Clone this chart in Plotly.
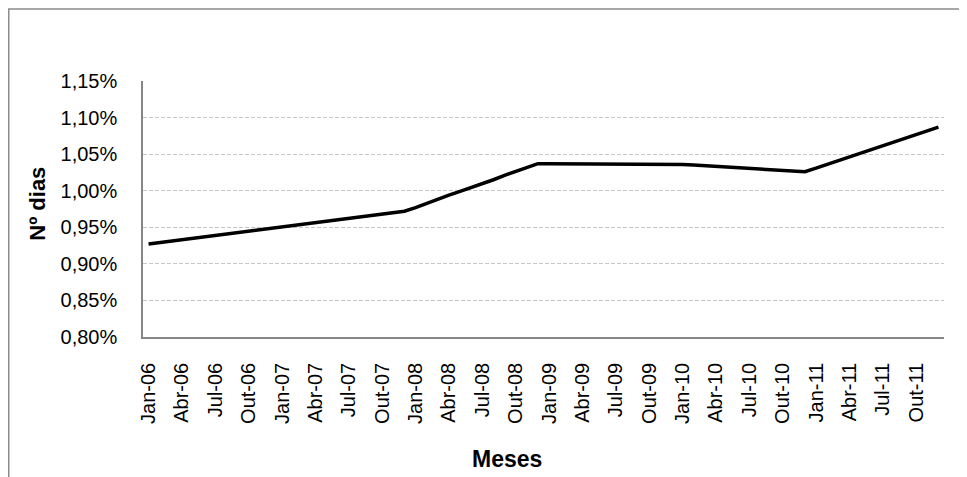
"""
Taxa mensal (Nº dias) - linha de Jan-06 a Dez-11, no estilo de um gráfico do Excel.
"""

import plotly.graph_objects as go

# ==================== DADOS ====================
MESES_PT = ['Jan', 'Fev', 'Mar', 'Abr', 'Mai', 'Jun',
            'Jul', 'Ago', 'Set', 'Out', 'Nov', 'Dez']
ANOS = ['06', '07', '08', '09', '10', '11']

meses = [f"{m}-{a}" for a in ANOS for m in MESES_PT]

# valores (fração, 0.00927 = 0,927%)
taxa_2006 = [0.00927, 0.00929, 0.00931, 0.00933, 0.00935, 0.00937,
             0.00939, 0.00941, 0.00943, 0.00945, 0.00947, 0.00949]
taxa_2007 = [0.00951, 0.00953, 0.00955, 0.00957, 0.00959, 0.00961,
             0.00963, 0.00964, 0.00966, 0.00968, 0.00970, 0.00972]
taxa_2008 = [0.00977, 0.00983, 0.00988, 0.00994, 0.00999, 0.01004,
             0.01010, 0.01015, 0.01021, 0.01026, 0.01031, 0.01037]
taxa_2009 = [0.01037, 0.01037, 0.01037, 0.01037, 0.01037, 0.01037,
             0.01037, 0.01037, 0.01037, 0.01037, 0.01037, 0.01037]
taxa_2010 = [0.01036, 0.01035, 0.01034, 0.01034, 0.01033, 0.01032,
             0.01031, 0.01030, 0.01029, 0.01028, 0.01027, 0.01026]
taxa_2011 = [0.01031, 0.01036, 0.01041, 0.01046, 0.01051, 0.01056,
             0.01061, 0.01066, 0.01071, 0.01076, 0.01082, 0.01087]

taxa = taxa_2006 + taxa_2007 + taxa_2008 + taxa_2009 + taxa_2010 + taxa_2011

# rótulos do eixo x: um a cada trimestre
rotulos_x = meses[::3]

# ==================== ESTILO ====================
FONTE = 'Liberation Sans, Arial, sans-serif'
CINZA_EIXO = '#868686'
CINZA_GRADE = '#c6c6c6'

fig = go.Figure()

fig.add_trace(go.Scatter(
    x=meses,
    y=taxa,
    mode='lines',
    line=dict(color='black', width=3.5),
    showlegend=False,
))

# a página tem 8px de margem no body, por isso a figura é 8px menor
fig.update_layout(
    width=959,
    height=469,
    separators=',.',
    paper_bgcolor='white',
    plot_bgcolor='white',
    font=dict(family=FONTE, color='black', size=20),
    margin=dict(l=135, r=23, t=73, b=140),
    xaxis=dict(
        type='category',
        categoryorder='array',
        categoryarray=meses,
        range=[-0.5, len(meses) - 0.5],
        tickvals=rotulos_x,
        ticktext=rotulos_x,
        tickangle=-90,
        ticks='',
        ticklabelstandoff=16,
        showgrid=False,
        showline=True,
        linecolor=CINZA_EIXO,
        linewidth=1.5,
        zeroline=False,
        tickfont=dict(size=20),
        automargin=False,
    ),
    yaxis=dict(
        range=[0.008, 0.0115],
        dtick=0.0005,
        tick0=0.008,
        tickformat='.2%',
        ticks='',
        ticklabelstandoff=20,
        showgrid=True,
        gridcolor=CINZA_GRADE,
        gridwidth=1,
        griddash='4px,2px',
        showline=True,
        linecolor=CINZA_EIXO,
        linewidth=1.5,
        zeroline=False,
        tickfont=dict(size=20),
        automargin=False,
    ),
)

# títulos dos eixos como anotações (posição igual à do original)
fig.add_annotation(
    text='<b>Nº dias</b>', textangle=-90,
    xref='paper', yref='paper', x=-0.1313, y=0.52,
    showarrow=False, font=dict(size=22),
    xanchor='center', yanchor='middle',
)
fig.add_annotation(
    text='<b>Meses</b>',
    xref='paper', yref='paper', x=0.455, y=-0.477,
    showarrow=False, font=dict(size=23),
    xanchor='center', yanchor='middle',
)

# moldura externa do gráfico (sai da janela à direita e em baixo)
fig.add_shape(
    type='rect', xref='paper', yref='paper',
    x0=-0.1676, x1=1.05, y0=-0.6, y1=1.281,
    line=dict(color='#8c8c8c', width=1.5),
    fillcolor='rgba(0,0,0,0)', layer='below',
)

fig.write_html("out.html")
